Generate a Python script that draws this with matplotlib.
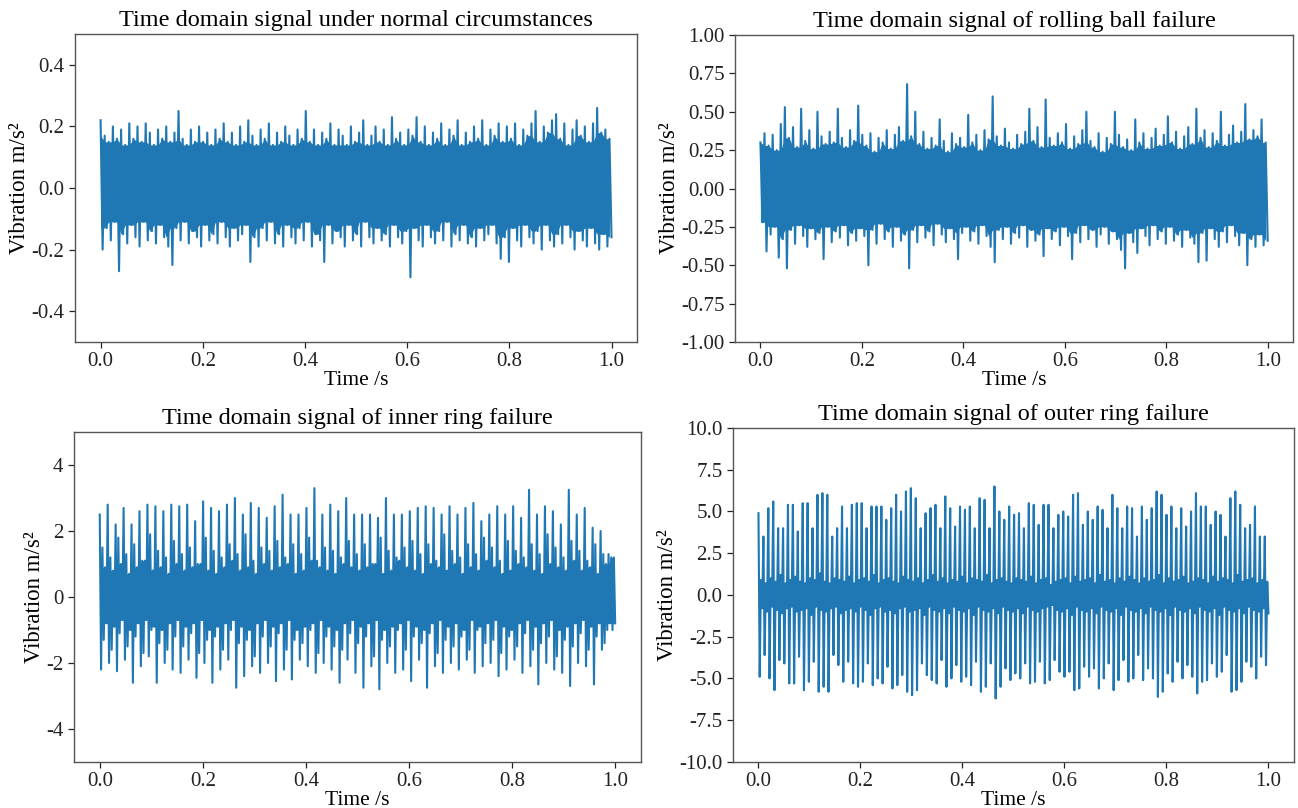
import numpy as np
import matplotlib
matplotlib.use("Agg")
import matplotlib.pyplot as plt
from matplotlib.ticker import FormatStrFormatter

plt.rcParams["font.family"] = ["Liberation Serif", "DejaVu Serif"]
plt.rcParams["axes.unicode_minus"] = False

LINE = "#1f77b4"
time_ticks = [0.0, 0.2, 0.4, 0.6, 0.8, 1.0]

# ---- normal bearing: positive / negative swing of each oscillation ----
normal_hi = [
    0.22, 0.17, 0.15, 0.20, 0.16, 0.19, 0.14, 0.21, 0.16, 0.20, 0.15, 0.21, 0.18, 0.14, 0.19, 0.16, 0.20, 0.15, 0.18, 0.25,
    0.16, 0.14, 0.19, 0.15, 0.20, 0.15, 0.18, 0.14, 0.19, 0.16, 0.21, 0.15, 0.18, 0.14, 0.20, 0.15, 0.22, 0.17, 0.14, 0.19,
    0.16, 0.21, 0.14, 0.18, 0.15, 0.20, 0.17, 0.14, 0.19, 0.16, 0.25, 0.15, 0.19, 0.14, 0.18, 0.16, 0.21, 0.14, 0.19, 0.17,
    0.14, 0.20, 0.15, 0.18, 0.22, 0.14, 0.17, 0.20, 0.15, 0.19, 0.14, 0.23, 0.16, 0.18, 0.14, 0.19, 0.17, 0.23, 0.15, 0.20,
    0.14, 0.18, 0.16, 0.21, 0.14, 0.19, 0.17, 0.22, 0.14, 0.18, 0.15, 0.20, 0.16, 0.22, 0.14, 0.19, 0.17, 0.21, 0.15, 0.20,
    0.16, 0.21, 0.14, 0.19, 0.17, 0.21, 0.25, 0.15, 0.20, 0.18, 0.22, 0.24, 0.16, 0.21, 0.14, 0.19, 0.22, 0.17, 0.20, 0.15,
    0.21, 0.26, 0.18, 0.19, 0.16,
]
normal_lo = [
    -0.20, -0.13, -0.17, -0.11, -0.27, -0.15, -0.18, -0.12, -0.16, -0.19, -0.11, -0.17, -0.14, -0.18, -0.12, -0.16, -0.19, -0.25, -0.13, -0.17,
    -0.11, -0.18, -0.14, -0.16, -0.19, -0.12, -0.17, -0.15, -0.18, -0.11, -0.16, -0.19, -0.13, -0.17, -0.15, -0.12, -0.24, -0.16, -0.19, -0.13,
    -0.17, -0.11, -0.18, -0.15, -0.19, -0.12, -0.16, -0.18, -0.13, -0.17, -0.11, -0.19, -0.15, -0.17, -0.24, -0.12, -0.18, -0.14, -0.16, -0.19,
    -0.12, -0.17, -0.15, -0.19, -0.11, -0.16, -0.18, -0.13, -0.17, -0.15, -0.19, -0.12, -0.16, -0.18, -0.14, -0.29, -0.13, -0.17, -0.19, -0.12,
    -0.16, -0.18, -0.14, -0.17, -0.11, -0.19, -0.15, -0.17, -0.12, -0.18, -0.16, -0.19, -0.13, -0.17, -0.15, -0.12, -0.18, -0.23, -0.16, -0.24,
    -0.13, -0.17, -0.19, -0.12, -0.16, -0.18, -0.14, -0.20, -0.12, -0.17, -0.19, -0.15, -0.18, -0.12, -0.16, -0.20, -0.14, -0.17, -0.19, -0.13,
    -0.18, -0.20, -0.15, -0.19, -0.16,
]

# ---- rolling ball fault ----
ball_hi = [
    0.30, 0.36, 0.28, 0.35, 0.25, 0.42, 0.53, 0.33, 0.40, 0.27, 0.52, 0.31, 0.38, 0.26, 0.50, 0.34, 0.29, 0.37, 0.30, 0.52,
    0.33, 0.27, 0.38, 0.31, 0.54, 0.35, 0.28, 0.36, 0.24, 0.33, 0.30, 0.38, 0.26, 0.35, 0.40, 0.31, 0.68, 0.34, 0.50, 0.29,
    0.37, 0.26, 0.33, 0.28, 0.45, 0.31, 0.24, 0.36, 0.29, 0.33, 0.27, 0.48, 0.30, 0.35, 0.25, 0.38, 0.32, 0.60, 0.34, 0.28,
    0.39, 0.30, 0.26, 0.35, 0.29, 0.37, 0.52, 0.31, 0.40, 0.27, 0.58, 0.33, 0.28, 0.36, 0.30, 0.42, 0.26, 0.34, 0.29, 0.38,
    0.50, 0.31, 0.27, 0.36, 0.24, 0.33, 0.29, 0.50, 0.35, 0.27, 0.32, 0.25, 0.45, 0.30, 0.36, 0.26, 0.33, 0.39, 0.28, 0.35,
    0.47, 0.30, 0.37, 0.26, 0.34, 0.40, 0.29, 0.52, 0.33, 0.38, 0.27, 0.36, 0.31, 0.50, 0.28, 0.35, 0.41, 0.30, 0.37, 0.55,
    0.32, 0.38, 0.34, 0.45, 0.30,
]
ball_lo = [
    -0.22, -0.41, -0.30, -0.25, -0.45, -0.33, -0.52, -0.27, -0.36, -0.24, -0.31, -0.38, -0.26, -0.33, -0.29, -0.46, -0.25, -0.35, -0.28, -0.32,
    -0.24, -0.37, -0.29, -0.34, -0.26, -0.31, -0.50, -0.27, -0.36, -0.23, -0.33, -0.28, -0.38, -0.25, -0.34, -0.30, -0.52, -0.27, -0.35, -0.24,
    -0.32, -0.28, -0.37, -0.23, -0.30, -0.35, -0.26, -0.33, -0.46, -0.29, -0.25, -0.34, -0.28, -0.36, -0.24, -0.31, -0.38, -0.48, -0.27, -0.33,
    -0.25, -0.36, -0.29, -0.32, -0.24, -0.38, -0.27, -0.34, -0.30, -0.44, -0.26, -0.33, -0.28, -0.37, -0.25, -0.31, -0.46, -0.29, -0.35, -0.24,
    -0.33, -0.27, -0.38, -0.30, -0.25, -0.36, -0.28, -0.33, -0.40, -0.52, -0.29, -0.35, -0.42, -0.26, -0.31, -0.37, -0.24, -0.33, -0.28, -0.36,
    -0.25, -0.34, -0.30, -0.38, -0.27, -0.32, -0.36, -0.48, -0.29, -0.47, -0.26, -0.33, -0.38, -0.28, -0.35, -0.24, -0.31, -0.37, -0.29, -0.50,
    -0.33, -0.38, -0.30, -0.37, -0.34,
]

# ---- inner ring fault: impulse peak, following ring-down, background ----
inner_peak_hi = [
    2.5, 2.8, 2.2, 2.7, 2.2, 2.6, 2.8, 2.75, 2.6, 2.8, 2.75, 2.8, 2.3, 2.9, 2.7, 2.6, 2.8, 3.0, 2.5, 2.85,
    2.7, 2.4, 2.75, 3.1, 2.5, 2.5, 2.7, 3.3, 2.5, 2.8, 2.6, 3.0, 2.5, 2.5, 2.5, 2.4, 3.0, 2.5, 2.5, 2.6,
    2.7, 2.75, 2.7, 2.5, 2.75, 2.5, 2.7, 2.85, 2.3, 2.5, 2.75, 2.5, 2.75, 2.4, 3.25, 2.5, 2.75, 2.6, 2.2, 3.25,
    2.5, 2.7, 2.1, 2.0, 1.3,
]
inner_peak_lo = [
    -2.2, -2.0, -2.25, -1.9, -2.6, -2.1, -1.8, -2.6, -2.0, -2.2, -2.3, -1.9, -2.45, -2.0, -2.6, -2.2, -1.9, -2.75, -2.4, -2.1,
    -2.3, -2.0, -2.55, -2.2, -2.5, -1.9, -2.1, -2.3, -2.0, -2.2, -2.6, -1.9, -2.3, -2.75, -2.1, -2.8, -2.0, -2.3, -2.2, -2.55,
    -1.9, -2.75, -2.1, -2.3, -2.0, -2.2, -1.9, -2.3, -2.1, -2.0, -2.4, -2.2, -1.9, -2.3, -2.1, -2.65, -2.0, -2.2, -2.3, -2.7,
    -2.0, -2.1, -2.65, -1.6, -0.8,
]
inner_mid_hi = [
    1.5, 1.2, 1.8, 1.3, 1.6, 1.1, 1.9, 1.4, 1.2, 1.7, 1.3, 1.5, 1.0, 1.8, 1.4, 1.2, 1.6, 1.3, 1.9, 1.1,
    1.5, 1.4, 1.7, 1.2, 1.6, 1.3, 1.8, 1.1, 1.5, 1.4, 1.2, 1.7, 1.3, 1.6, 1.0, 1.8, 1.4, 1.2, 1.5, 1.7,
    1.3, 1.6, 1.1, 1.9, 1.4, 1.2, 1.6, 1.3, 1.8, 1.5, 1.1, 1.7, 1.4, 1.2, 1.6, 1.3, 1.9, 1.5, 1.2, 1.7,
    1.4, 1.1, 1.6, 1.3, 1.2,
]
inner_mid_lo = [
    -1.3, -1.6, -1.1, -1.5, -1.2, -1.7, -1.0, -1.4, -1.6, -1.2, -1.5, -1.1, -1.7, -1.3, -1.2, -1.6, -1.0, -1.4, -1.3, -1.8,
    -1.2, -1.5, -1.1, -1.6, -1.3, -1.4, -1.0, -1.7, -1.2, -1.5, -1.6, -1.1, -1.4, -1.2, -1.8, -1.3, -1.5, -1.0, -1.6, -1.2,
    -1.4, -1.1, -1.7, -1.3, -1.5, -1.2, -1.6, -1.0, -1.4, -1.3, -1.7, -1.2, -1.5, -1.1, -1.6, -1.4, -1.2, -1.8, -1.3, -1.5,
    -1.1, -1.6, -1.2, -1.4, -1.0,
]
inner_base_hi = [
    0.9, 0.8, 1.0, 0.7, 0.9, 1.1, 0.8, 0.9, 0.7, 1.0, 0.8, 0.9, 1.0, 0.8, 0.7, 0.9, 1.1, 0.8, 0.9, 0.7,
    1.0, 0.8, 0.9, 1.0, 0.7, 0.8, 1.1, 0.9, 0.8, 0.7, 1.0, 0.9, 0.8, 0.9, 1.0, 0.7, 0.8, 1.1, 0.9, 0.8,
    0.7, 1.0, 0.9, 0.8, 1.0, 0.7, 0.9, 0.8, 1.1, 0.9, 0.7, 0.8, 1.0, 0.9, 0.8, 0.7, 1.0, 0.9, 0.8, 1.1,
    0.8, 0.9, 0.7, 1.0, 1.2,
]
inner_base_lo = [
    -0.8, -0.9, -0.7, -1.0, -0.8, -0.7, -0.9, -1.0, -0.8, -0.7, -0.9, -0.8, -0.7, -1.0, -0.9, -0.8, -0.7, -0.9, -1.0, -0.8,
    -0.7, -0.9, -0.8, -0.7, -1.0, -0.9, -0.8, -0.7, -0.9, -1.0, -0.8, -0.7, -0.9, -0.8, -0.7, -1.0, -0.9, -0.8, -0.7, -0.9,
    -1.0, -0.8, -0.7, -0.9, -0.8, -1.0, -0.7, -0.9, -0.8, -0.7, -0.9, -1.0, -0.8, -0.7, -0.9, -0.8, -0.7, -1.0, -0.9, -0.8,
    -0.7, -0.9, -0.8, -1.0, -0.8,
]

# ---- outer ring fault: impulse peaks and the background between them ----
outer_peak_hi = [
    4.9, 3.5, 5.2, 5.6, 4.0, 4.0, 5.4, 5.4, 3.8, 5.5, 5.5, 4.0, 6.0,
    6.1, 6.0, 3.5, 4.0, 5.3, 4.0, 5.4, 5.5, 5.5, 4.0, 5.3, 5.3, 5.3,
    4.5, 5.2, 6.0, 5.0, 6.2, 6.4, 5.8, 4.0, 4.9, 5.2, 5.4, 4.0, 5.9,
    5.2, 4.1, 5.3, 5.1, 5.3, 4.0, 5.8, 5.7, 4.0, 6.5, 5.0, 4.5, 5.3,
    4.8, 4.9, 4.0, 5.5, 5.4, 4.2, 5.4, 5.4, 4.0, 4.8, 5.0, 4.7, 6.0,
    6.1, 4.2, 5.0, 4.5, 5.3, 5.1, 4.0, 6.0, 5.2, 4.0, 5.3, 5.2, 3.5,
    5.3, 4.5, 5.2, 6.2, 6.0, 4.8, 5.3, 4.0, 5.2, 4.1, 5.0, 6.1, 5.3,
    5.3, 4.2, 5.0, 4.8, 3.5, 5.8, 6.2, 5.4, 4.0, 4.2, 5.3, 3.5, 3.5,
]
outer_peak_lo = [
    -4.9, -3.6, -5.0, -5.7, -3.9, -4.1, -5.3, -5.3, -3.7, -5.7, -5.2, -4.0, -5.8,
    -5.5, -5.8, -3.6, -4.2, -5.2, -4.0, -5.3, -5.5, -5.2, -4.1, -5.4, -5.0, -5.3,
    -4.3, -5.6, -5.4, -4.8, -5.8, -6.0, -5.7, -4.1, -4.8, -5.1, -5.3, -3.9, -5.5,
    -5.0, -4.2, -5.2, -4.9, -5.4, -4.0, -5.8, -5.5, -4.1, -6.2, -5.5, -4.4, -5.1,
    -4.7, -5.0, -4.1, -5.3, -5.2, -4.0, -5.3, -5.1, -3.9, -4.6, -4.9, -4.6, -5.7,
    -5.6, -4.3, -4.9, -4.4, -5.6, -5.0, -4.1, -5.7, -5.1, -3.9, -5.2, -5.0, -3.6,
    -5.1, -4.4, -5.0, -6.1, -5.8, -4.7, -5.2, -4.0, -5.0, -4.2, -4.9, -5.9, -5.2,
    -5.1, -4.1, -4.9, -4.6, -3.6, -5.8, -5.7, -5.2, -4.0, -4.3, -5.0, -3.7, -4.2,
]
outer_base_hi = [
    0.9, 0.7, 1.0, 0.8, 1.2, 0.7, 0.9, 1.1, 0.8, 0.7, 1.0, 0.9, 1.3,
    0.8, 0.7, 1.0, 0.9, 0.8, 1.1, 0.7, 0.9, 1.0, 0.8, 1.2, 0.7, 0.9,
    1.0, 0.8, 0.7, 1.1, 0.9, 0.8, 1.0, 0.7, 0.9, 1.2, 0.8, 1.0, 0.7,
    0.9, 0.8, 1.1, 0.7, 1.0, 0.9, 0.8, 1.2, 0.7, 0.9, 1.0, 0.8, 0.7,
    1.0, 0.9, 0.8, 1.1, 0.7, 0.9, 1.0, 0.6, 0.8, 0.9, 1.0, 0.7, 1.1,
    0.8, 0.9, 1.0, 0.7, 1.2, 0.8, 0.9, 0.7, 1.0, 0.8, 1.1, 0.9, 0.7,
    1.0, 0.8, 0.9, 1.2, 0.7, 1.0, 0.8, 0.9, 1.1, 0.7, 0.8, 1.0, 0.9,
    0.7, 1.1, 0.8, 1.0, 0.9, 0.7, 1.2, 0.8, 0.9, 1.0, 0.7, 0.9, 0.8,
]
outer_base_lo = [
    -0.8, -1.0, -0.7, -0.9, -1.1, -0.8, -0.7, -1.0, -0.9, -0.8, -1.2, -0.7, -0.9,
    -1.0, -0.8, -0.7, -1.1, -0.9, -0.8, -1.0, -0.7, -0.9, -1.2, -0.8, -0.7, -1.0,
    -0.9, -1.1, -0.8, -0.7, -1.0, -0.9, -0.8, -1.2, -0.7, -0.9, -1.0, -0.8, -1.1,
    -0.7, -0.9, -1.0, -0.8, -1.2, -0.7, -0.9, -1.0, -0.8, -1.1, -0.7, -0.9, -1.0,
    -0.8, -1.1, -0.7, -0.9, -1.0, -0.8, -0.7, -0.6, -0.9, -1.0, -0.8, -1.2, -0.7,
    -0.9, -1.0, -0.8, -1.1, -0.7, -0.9, -1.0, -0.8, -1.2, -0.7, -0.9, -1.0, -0.8,
    -1.1, -0.7, -0.9, -1.0, -0.8, -1.2, -0.7, -0.9, -1.0, -0.8, -1.1, -0.7, -0.9,
    -1.0, -0.8, -1.2, -0.7, -0.9, -1.0, -0.8, -1.1, -0.7, -0.9, -1.0, -0.8, -1.1,
]

inner_hi = np.column_stack([inner_peak_hi, inner_mid_hi, inner_base_hi]).ravel()
inner_lo = np.column_stack([inner_peak_lo, inner_mid_lo, inner_base_lo]).ravel()
outer_hi = np.column_stack([outer_peak_hi, outer_base_hi]).ravel()
outer_lo = np.column_stack([outer_peak_lo, outer_base_lo]).ravel()

titles = [
    "Time domain signal under normal circumstances",
    "Time domain signal of rolling ball failure",
    "Time domain signal of inner ring failure",
    "Time domain signal of outer ring failure",
]

panels = [
    # rect (fig fraction), hi, lo, ylim, yticks, tick format
    ([0.0578, 0.5767, 0.4330, 0.3812], normal_hi, normal_lo, (-0.5, 0.5),
     [-0.4, -0.2, 0.0, 0.2, 0.4], "%.1f"),
    ([0.5663, 0.5767, 0.4299, 0.3800], ball_hi, ball_lo, (-1.0, 1.0),
     [-1.0, -0.75, -0.5, -0.25, 0.0, 0.25, 0.5, 0.75, 1.0], "%.2f"),
    ([0.0570, 0.0570, 0.4368, 0.4083], inner_hi, inner_lo, (-5, 5),
     [-4, -2, 0, 2, 4], "%d"),
    ([0.5647, 0.0570, 0.4322, 0.4133], outer_hi, outer_lo, (-10, 10),
     [-10.0, -7.5, -5.0, -2.5, 0.0, 2.5, 5.0, 7.5, 10.0], "%.1f"),
]

fig = plt.figure(figsize=(12.98, 8.08), dpi=100)

for (rect, hi, lo, ylim, yticks, fmt), title in zip(panels, titles):
    ax = fig.add_axes(rect)
    hi = np.asarray(hi, dtype=float)
    lo = np.asarray(lo, dtype=float)
    n = len(hi)
    t = np.linspace(0.0, 1.0, 2 * n)
    y = np.column_stack([hi, lo]).ravel()

    # dense core where neighbouring oscillations overlap
    ph = np.pad(hi, 1, mode="edge")
    pl = np.pad(lo, 1, mode="edge")
    top = np.minimum(np.minimum(ph[:-2], ph[1:-1]), ph[2:])
    bot = np.maximum(np.maximum(pl[:-2], pl[1:-1]), pl[2:])
    ax.fill_between(t[::2], bot, top, color=LINE, lw=0)
    ax.plot(t, y, color=LINE, lw=1.5)

    ax.set_xlim(-0.05, 1.05)
    ax.set_ylim(*ylim)
    ax.set_xticks(time_ticks)
    ax.xaxis.set_major_formatter(FormatStrFormatter("%.1f"))
    ax.set_yticks(yticks)
    ax.yaxis.set_major_formatter(FormatStrFormatter(fmt))
    ax.tick_params(labelsize=15, length=4, width=0.9, colors="#222222")
    for sp in ax.spines.values():
        sp.set_color("#555555")
        sp.set_linewidth(1.0)
    ax.set_title(title, fontsize=17.5, pad=6)
    ax.set_xlabel("Time /s", fontsize=15.5, labelpad=0)
    ax.set_ylabel("Vibration m/s²", fontsize=16.5, labelpad=1)

fig.savefig("out.png", dpi=100)
